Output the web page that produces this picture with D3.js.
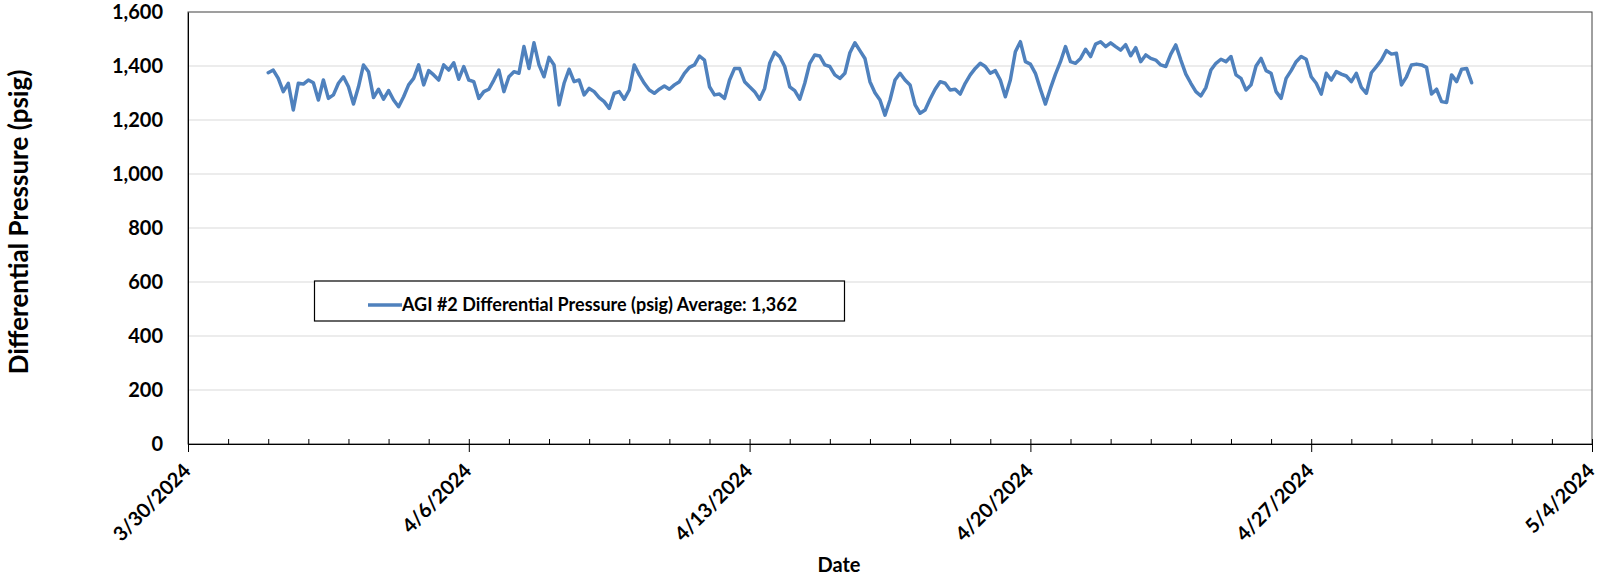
<!DOCTYPE html>
<html>
<head>
<meta charset="utf-8">
<script src="https://cdn.jsdelivr.net/npm/d3@7"></script>
<style>
  html, body { margin: 0; padding: 0; background: #fff; }
  svg { display: block; font-family: Lato, "Open Sans", sans-serif; font-weight: bold; }
</style>
</head>
<body>
<svg id="chart" width="1600" height="575"></svg>
<script>
// ---- data ----
const xTickLabels = ["3/30/2024", "4/6/2024", "4/13/2024", "4/20/2024", "4/27/2024", "5/4/2024"];
const yTickValues = [0, 200, 400, 600, 800, 1000, 1200, 1400, 1600];
const seriesName = "AGI #2 Differential Pressure (psig) Average: 1,362";
const seriesStart = "4/1/2024 00:00";
const seriesStepHours = 3;
const pressure = [
  1375,1385,1354,1305,1336,1237,1336,1333,1348,1338,
  1274,1348,1280,1293,1336,1360,1323,1259,1323,1404,
  1379,1283,1314,1277,1309,1274,1249,1286,1330,1354,
  1404,1330,1383,1367,1348,1404,1385,1412,1351,1398,
  1348,1342,1280,1305,1314,1348,1385,1305,1360,1379,
  1373,1472,1391,1486,1404,1360,1432,1404,1256,1336,
  1388,1342,1348,1293,1317,1305,1283,1268,1243,1299,
  1305,1277,1311,1404,1367,1336,1311,1299,1314,1326,
  1314,1330,1342,1373,1395,1404,1437,1422,1323,1293,
  1296,1280,1348,1391,1391,1342,1323,1305,1277,1317,
  1410,1451,1435,1398,1323,1309,1277,1336,1410,1441,
  1437,1404,1398,1367,1354,1373,1449,1486,1457,1428,
  1342,1301,1274,1218,1274,1348,1373,1348,1330,1256,
  1225,1237,1278,1314,1342,1336,1311,1314,1296,1336,
  1367,1391,1410,1398,1373,1383,1348,1286,1348,1453,
  1490,1416,1407,1373,1314,1259,1317,1370,1416,1472,
  1416,1410,1428,1462,1435,1481,1490,1472,1486,1472,
  1459,1479,1438,1468,1416,1441,1428,1422,1404,1398,
  1444,1478,1422,1370,1336,1305,1289,1320,1385,1410,
  1425,1416,1435,1367,1354,1311,1330,1400,1428,1383,
  1373,1305,1280,1354,1383,1416,1435,1425,1360,1336,
  1296,1373,1348,1379,1370,1363,1342,1373,1321,1299,
  1375,1398,1422,1457,1444,1447,1330,1360,1404,1407,
  1404,1395,1296,1314,1268,1265,1367,1342,1388,1391,
  1338
];

// ---- layout ----
const svg = d3.select("#chart");
const m = { left: 188, right: 1592, top: 12, bottom: 444 };
const parseDay = d3.utcParse("%m/%d/%Y");
const parseStamp = d3.utcParse("%m/%d/%Y %H:%M");
const xTicks = xTickLabels.map(parseDay);
const t0 = parseStamp(seriesStart);
const data = pressure.map((v, i) => ({ t: d3.utcHour.offset(t0, i * seriesStepHours), v }));

const x = d3.scaleUtc().domain([xTicks[0], xTicks[xTicks.length - 1]]).range([m.left, m.right]);
const y = d3.scaleLinear().domain([0, 1600]).range([m.bottom, m.top]);

// gridlines
svg.append("g").selectAll("line").data(yTickValues.filter(d => d > 0 && d < 1600)).join("line")
  .attr("x1", m.left).attr("x2", m.right)
  .attr("y1", d => y(d)).attr("y2", d => y(d))
  .attr("stroke", "#d9d9d9").attr("stroke-width", 1);

// plot border
svg.append("rect")
  .attr("x", m.left).attr("y", m.top)
  .attr("width", m.right - m.left).attr("height", m.bottom - m.top)
  .attr("fill", "none").attr("stroke", "#404040").attr("stroke-width", 1);

// line
const line = d3.line().x(d => x(d.t)).y(d => y(d.v));
svg.append("path").datum(data)
  .attr("d", line)
  .attr("fill", "none")
  .attr("stroke", "#4f81bd")
  .attr("stroke-width", 3.5)
  .attr("stroke-linejoin", "round")
  .attr("stroke-linecap", "round");

// y axis
const yAxis = svg.append("g").attr("transform", `translate(${m.left},0)`)
  .call(d3.axisLeft(y).tickValues(yTickValues).tickSize(0).tickPadding(25).tickFormat(d3.format(",")));
yAxis.select(".domain").attr("stroke", "#000");
yAxis.selectAll("text").attr("font-size", 20).attr("font-family", "Lato, sans-serif").attr("font-weight", "bold").attr("fill", "#000");

// x axis minor ticks (daily, inward)
const minor = d3.utcDay.range(xTicks[0], d3.utcDay.offset(xTicks[xTicks.length - 1], 1));
const xMinor = svg.append("g").attr("transform", `translate(0,${m.bottom})`)
  .call(d3.axisBottom(x).tickValues(minor).tickSize(-5).tickFormat(""));
xMinor.selectAll("line").attr("stroke", "#000");
xMinor.select(".domain").remove();

// x axis major ticks
const xMajor = svg.append("g").attr("transform", `translate(0,${m.bottom})`)
  .call(d3.axisBottom(x).tickValues(xTicks).tickSize(8).tickFormat(""));
xMajor.selectAll("line").attr("stroke", "#000");
xMajor.select(".domain").attr("stroke", "#000");

// x labels rotated
svg.append("g").selectAll("text").data(xTicks).join("text")
  .attr("transform", (d) => `translate(${x(d) + 4},${m.bottom + 28}) rotate(-45)`)
  .attr("text-anchor", "end")
  .attr("font-size", 20)
  .attr("fill", "#000")
  .text((d, i) => xTickLabels[i]);

// axis titles
svg.append("text")
  .attr("x", 839).attr("y", 572)
  .attr("text-anchor", "middle")
  .attr("font-size", 20)
  .attr("fill", "#000")
  .text("Date");

svg.append("text")
  .attr("transform", "translate(28,222) rotate(-90)")
  .attr("text-anchor", "middle")
  .attr("font-size", 26)
  .attr("fill", "#000")
  .text("Differential Pressure (psig)");

// legend
const lg = svg.append("g");
lg.append("rect").attr("x", 314.5).attr("y", 281).attr("width", 530).attr("height", 40)
  .attr("fill", "#fff").attr("stroke", "#000").attr("stroke-width", 1.2);
lg.append("line").attr("x1", 368).attr("x2", 402).attr("y1", 305).attr("y2", 305)
  .attr("stroke", "#4f81bd").attr("stroke-width", 3.5);
lg.append("text").attr("x", 402).attr("y", 311)
  .attr("font-size", 18).attr("fill", "#000")
  .text(seriesName);
</script>
</body>
</html>
